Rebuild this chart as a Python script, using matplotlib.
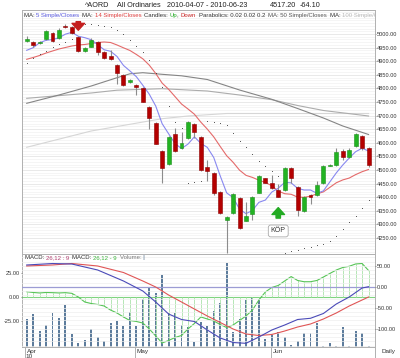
import numpy as np
import pandas as pd
import matplotlib
matplotlib.use("Agg")
import matplotlib.pyplot as plt
from matplotlib.patches import FancyArrowPatch
from matplotlib.transforms import blended_transform_factory

plt.rcParams['font.family'] = ['Liberation Sans', 'DejaVu Sans']

# ---------------- data ----------------
title_parts = ["^AORD", "All Ordinaries", "2010-04-07 - 2010-06-23", "4517.20", "-64.10"]
dates = [d for d in pd.bdate_range("2010-04-07", "2010-06-23")
         if d.strftime("%Y-%m-%d") not in ("2010-04-26", "2010-06-14")]

opens = [4973.2, 4970.6, 4965.8, 4982.7, 5004.8, 4986.4, 5028.3, 5023.9, 4989.0, 4937.5,
         4954.0, 4970.6, 4933.8, 4919.1, 4886.0, 4851.1, 4822.4, 4813.6, 4801.5, 4731.6,
         4673.9, 4571.0, 4522.1, 4631.3, 4579.8, 4616.5, 4669.1, 4622.4, 4512.1, 4489.0,
         4420.2, 4318.0, 4340.8, 4398.2, 4313.6, 4338.2, 4416.5, 4469.5, 4453.3, 4426.5,
         4426.5, 4506.3, 4438.6, 4350.4, 4408.1, 4408.1, 4451.1, 4515.8, 4518.4, 4571.0,
         4546.0, 4588.2, 4625.0, 4579.8]
highs = [4991.5, 4974.3, 4976.1, 5016.5, 5008.5, 5022.1, 5038.6, 5029.4, 4992.6, 4954.0,
         4983.5, 4974.3, 4937.5, 4942.3, 4889.7, 4852.9, 4834.6, 4816.2, 4805.1, 4735.3,
         4676.5, 4573.5, 4623.2, 4654.4, 4639.7, 4680.1, 4672.8, 4625.0, 4536.8, 4492.6,
         4422.8, 4330.9, 4415.4, 4400.7, 4382.4, 4404.4, 4481.6, 4472.4, 4481.6, 4448.5,
         4509.2, 4509.2, 4441.2, 4404.4, 4411.8, 4459.6, 4518.4, 4522.1, 4580.9, 4577.2,
         4580.9, 4636.0, 4628.7, 4584.6]
lows = [4968.8, 4952.2, 4963.2, 4977.9, 4970.6, 4981.6, 5022.1, 5001.8, 4932.0, 4933.8,
        4950.4, 4922.8, 4908.1, 4904.4, 4817.3, 4808.8, 4819.9, 4774.6, 4750.0, 4651.8,
        4593.8, 4452.2, 4518.4, 4568.0, 4577.2, 4614.0, 4617.6, 4496.3, 4460.7, 4409.9,
        4338.2, 4194.9, 4338.2, 4283.1, 4310.7, 4316.2, 4413.6, 4450.4, 4430.1, 4398.9,
        4422.8, 4452.2, 4330.9, 4347.4, 4375.0, 4404.4, 4448.5, 4512.9, 4514.7, 4536.8,
        4544.1, 4584.6, 4573.5, 4511.0]
closes = [4982.7, 4958.5, 4970.6, 5009.9, 4976.1, 5015.8, 5024.6, 5004.8, 4937.5, 4949.6,
          4979.0, 4933.8, 4910.7, 4909.2, 4854.8, 4814.3, 4832.0, 4805.1, 4751.8, 4691.2,
          4596.7, 4506.3, 4620.2, 4571.0, 4600.4, 4677.6, 4640.8, 4500.0, 4497.4, 4413.6,
          4340.8, 4328.3, 4411.8, 4285.7, 4330.9, 4399.6, 4477.9, 4453.3, 4432.7, 4401.8,
          4506.3, 4469.5, 4352.9, 4401.8, 4401.8, 4444.9, 4514.7, 4518.4, 4567.3, 4546.0,
          4573.5, 4631.3, 4581.3, 4517.2]

# moving-average values at the start of the window (need data before 2010-04-07)
ma5_start = [4940.1, 4949.6, 4968.0, 4976.8]
ma14_start = [4907.0, 4913.6, 4921.0, 4930.1, 4937.5, 4944.9, 4950.4, 4955.9, 4959.6,
              4961.4, 4965.1, 4968.8, 4970.6]

ma50_idx = [0, 5, 10, 14, 16, 18, 21, 24, 28, 33, 38, 42, 46, 49, 53]
ma50_val = [4745.2, 4775.7, 4808.8, 4839.3, 4853.7, 4857.7, 4851.8, 4846.3, 4832.7, 4794.1,
            4759.9, 4726.1, 4691.2, 4661.8, 4630.5]
ma100_idx = [0, 10, 14, 21, 25, 28, 33, 38, 42, 46, 53]
ma100_val = [4763.6, 4783.1, 4793.4, 4798.9, 4794.1, 4790.4, 4775.7, 4758.5, 4737.1, 4718.8, 4698.5]
ma200_idx = [0, 10, 21, 25, 31, 42, 53]
ma200_val = [4583.5, 4643.4, 4688.6, 4698.5, 4707.7, 4707.7, 4707.7]

sar = [4895.2, 4911.8, 4925.4, 4939.3, 4952.2, 4963.2, 4972.4, 4979.8, 5040.4, 5038.6,
       5036.8, 5033.1, 5029.4, 5023.9, 5015.8, 4998.9, 4976.8, 4955.9, 4933.8, 4903.3,
       4857.7, 4805.1, 4735.3, 4677.6, 4654.4, 4451.1, 4457.0, 4460.7, 4680.1, 4677.6,
       4673.9, 4665.4, 4634.9, 4607.9, 4585.8, 4558.8, 4534.3, 4514.7, 4496.3, 4478.0,
       4193.8, 4200.4, 4206.3, 4212.1, 4218.0, 4223.5, 4229.4, 4240.8, 4257.4, 4283.1,
       4307.0, 4329.8, 4360.3, 4387.9]

sell_signals = [8]
buy_signals = [39]
buy_label = "KÖP"

volume = [560, 660, 320, 434, 686, 574, 834, 260, 74, 140, 360, 194, 126, 486, 526, 420,
          706, 420, 954, 1206, 1074, 1440, 674, 674, 440, 394, 106, 506, 420, 720, 886, 1686,
          306, 554, 940, 974, 954, 154, 240, 306, 194, 40, 126, 286, 286, 486, 30, 86, 20,
          394, 20, 326, 274, 20]

macd_hist = [5.2, 4.4, 3.9, 4.4, 4.2, 3.9, 4.2, 3.5, -0.3, -5.5, -7.1, -8.1, -9.7, -13.9,
             -17.0, -21.1, -24.8, -25.8, -27.4, -33.6, -40.9, -48.2, -45.6, -42.5, -40.4,
             -33.6, -27.9, -21.1, -23.2, -25.3, -29.0, -32.1, -29.5, -24.8, -20.1, -13.9,
             -3.4, 4.9, 9.6, 11.7, 16.4, 21.0, 16.9, 15.6, 15.6, 16.9, 20.5, 24.2, 27.8, 30.4,
             31.7, 34.1, 34.6, 27.3]
macd_idx = [0, 4, 7, 11, 15, 18, 20, 22, 24, 26, 28, 30, 32, 34, 36, 38, 40, 42, 44, 46, 48, 50, 52, 53]
macd_line = [51.7, 55.2, 54.0, 39.8, 13.6, -10.2, -36.4, -65.0, -78.1, -82.9, -103.1, -122.1,
             -132.9, -134.8, -119.8, -103.1, -91.2, -78.1, -75.2, -63.8, -41.2, -24.5, -3.1, 0.0]
macd_signal = [49.3, 51.7, 55.2, 49.3, 33.8, 13.6, -0.7, -19.8, -36.4, -53.1, -69.8, -85.2,
               -100.7, -112.6, -116.2, -113.8, -105.5, -96.0, -88.8, -76.9, -62.6, -46.0, -31.7, -24.5]

price_ticks = [5000, 4950, 4900, 4850, 4800, 4750, 4700, 4650, 4600, 4550, 4500, 4450,
               4400, 4350, 4300, 4250]
macd_ticks = [50, 0, -50, -100]
hist_ticks = [25, 0, -25]

# ---------------- derived ----------------
o = np.array(opens); h = np.array(highs); l = np.array(lows); c = np.array(closes)
n = len(c)
x = np.arange(n)
ma5 = np.array([ma5_start[i] if i < 4 else c[i-4:i+1].mean() for i in range(n)])
ma14 = np.array([ma14_start[i] if i < 13 else c[i-13:i+1].mean() for i in range(n)])

# ---------------- figure ----------------
W, H = 400, 358
fig = plt.figure(figsize=(W/100, H/100), dpi=100)
fig.patch.set_facecolor("white")

def fx(px): return px / W
def fy(py): return 1 - py / H

L, R = 22, 375
MT, MB, LB = 10, 254, 347
XL = ((L - 26.7) / 6.45, (R - 26.7) / 6.45)
TFS = 4.1

ax = fig.add_axes([fx(L), fy(MB), fx(R) - fx(L), fy(MT) - fy(MB)])
ax.set_xlim(*XL)
ax.set_ylim(5000 - (MB - 34) * 3.6765, 5000 + (34 - MT) * 3.6765)

# grid
for gv in np.arange(4200, 5100, 10):
    ax.axhline(gv, color="#f1f1f1", lw=0.5, zorder=0)
for gv in price_ticks:
    ax.axhline(gv, color="#e4e4e4", lw=0.5, zorder=0)

# moving averages
ax.plot(ma200_idx, ma200_val, color="#d6d6d6", lw=0.8, zorder=1)
ax.plot(ma100_idx, ma100_val, color="#acacac", lw=0.8, zorder=1)
ax.plot(ma50_idx, ma50_val, color="#858585", lw=0.8, zorder=1)
ax.plot(x, ma14, color="#e46a6a", lw=0.8, zorder=2)
ax.plot(x, ma5, color="#8888f0", lw=0.8, zorder=2)

# candles
up = c >= o
ax.vlines(x, l, h, color="#8c8c8c", lw=0.8, zorder=3)
body_lo = np.minimum(o, c)
body_h = np.maximum(np.abs(c - o), 1.5)
ax.bar(x[up], body_h[up], bottom=body_lo[up], width=0.62, color="#22b322",
       edgecolor="#1c8f1c", lw=0.4, zorder=4)
ax.bar(x[~up], body_h[~up], bottom=body_lo[~up], width=0.62, color="#b40000",
       edgecolor="#8c0000", lw=0.4, zorder=4)

# parabolic SAR
ax.plot(x, sar, linestyle="none", marker="o", ms=0.75, mew=0, color="#3a3a3a", zorder=5)

# signals
for i in sell_signals:
    a = FancyArrowPatch((i, h[i] + 63), (i, h[i] + 11),
                        arrowstyle="simple,head_length=0.55,head_width=1.0,tail_width=0.35",
                        mutation_scale=9, color="#c41e1e", zorder=6)
    ax.add_patch(a)
for i in buy_signals:
    a = FancyArrowPatch((i, l[i] - 86), (i, l[i] - 27),
                        arrowstyle="simple,head_length=0.55,head_width=1.0,tail_width=0.35",
                        mutation_scale=9, color="#22aa22", zorder=6)
    ax.add_patch(a)
    ax.text(i, l[i] - 123, buy_label, fontsize=5, ha="center", va="center", color="#333333",
            zorder=7, bbox=dict(boxstyle="round,pad=0.35", fc="white", ec="#aaaaaa", lw=0.6))

ax.set_xticks([])
ax.yaxis.tick_right()
ax.set_yticks(price_ticks)
ax.set_yticklabels([f"{v:.2f}" for v in price_ticks], fontsize=TFS, color="#333333")
ax.tick_params(axis="y", length=1.0, width=0.5, pad=0.6, colors="#666666", labelcolor="#333333")
for s in ax.spines.values():
    s.set_color("#b0b0b0"); s.set_linewidth(0.7)

# ---------------- lower panel ----------------
rect = [fx(L), fy(LB), fx(R) - fx(L), fy(MB) - fy(LB)]
axv = fig.add_axes(rect)
axh = fig.add_axes(rect, facecolor="none")
axm = fig.add_axes(rect, facecolor="none")
for a_ in (axv, axh, axm):
    a_.set_xlim(*XL)
axv.set_ylim(0, (LB - MB) * 20)
axh.set_ylim(-(LB - 296.7) * 25 / 24, (296.7 - MB) * 25 / 24)
axm.set_ylim(-(LB - 286.7) * 50 / 21, (286.7 - MB) * 50 / 21)

for gv in np.arange(-140, 80, 10):
    axm.axhline(gv, color="#efefef", lw=0.5, zorder=0)

axv.bar(x, volume, width=0.3, color="#5d7c9c", zorder=2)

axh.axhline(0, color="#7fd37f", lw=0.8, zorder=1)
axh.vlines(x, 0, macd_hist, color="#a9e2a9", lw=0.6, zorder=1)
axh.plot(x, macd_hist, color="#57c457", lw=0.8, zorder=2)

axm.axhline(0, color="#9c9cd4", lw=0.9, zorder=1)
axm.plot(macd_idx, macd_signal, color="#e05555", lw=0.8, zorder=3)
axm.plot(macd_idx, macd_line, color="#4a4ab8", lw=0.8, zorder=3)

axv.set_xticks([]); axv.set_yticks([])
axh.set_xticks([]); axm.set_xticks([])
axh.yaxis.tick_left()
axh.set_yticks(hist_ticks)
axh.set_yticklabels([f"{v:.2f}" for v in hist_ticks], fontsize=TFS)
axh.tick_params(axis="y", length=1.0, width=0.5, pad=0.8, colors="#666666", labelcolor="#333333")
axm.yaxis.tick_right()
axm.set_yticks(macd_ticks)
axm.set_yticklabels([f"{v:.2f}" for v in macd_ticks], fontsize=TFS)
axm.tick_params(axis="y", length=1.0, width=0.5, pad=0.6, colors="#666666", labelcolor="#333333")
for a_ in (axh, axm):
    for s in a_.spines.values():
        s.set_visible(False)
for s in axv.spines.values():
    s.set_color("#b0b0b0"); s.set_linewidth(0.7)

# month labels
bt = blended_transform_factory(axv.transData, fig.transFigure)
months = pd.Series([d.month for d in dates])
starts = [0] + [i for i in range(1, n) if months[i] != months[i-1]]
for k, i in enumerate(starts):
    xt = max(i - 0.2, XL[0] + 0.02)
    axv.plot([xt, xt], [fy(LB), fy(H)], transform=bt, color="#b0b0b0", lw=0.7, clip_on=False)
    axv.text(xt + 0.3, fy(351.5), dates[i].strftime("%b"), transform=bt, fontsize=4.6,
             ha="left", va="center", color="#333333")
axv.text(XL[0] + 0.5, fy(354.5), dates[0].strftime("%y"), transform=bt, fontsize=4.6,
         ha="left", va="top", color="#333333")
fig.add_artist(plt.Line2D([fx(R), fx(R)], [fy(LB), 0], color="#b0b0b0", lw=0.7))
fig.text(fx(389), fy(352), "Daily", fontsize=4.6, ha="center", va="center", color="#333333")

# ---------------- texts ----------------
renderer = fig.canvas.get_renderer()

def pieces(axes, x0, y0, parts, size, gap=3.0):
    xp = x0
    for s, col in parts:
        if s == "":
            xp += gap
            continue
        t = axes.text(fx(xp), fy(y0), s, transform=fig.transFigure, fontsize=size,
                      color=col, ha="left", va="center", clip_on=True, zorder=10)
        xp += t.get_window_extent(renderer=renderer).width

dk = "#333333"
pieces(ax, 24, 15.5, [("MA: ", dk), ("5 Simple/Closes", "#5a5ae0"), ("", None),
                      ("MA: ", dk), ("14 Simple/Closes", "#e04040"), ("", None),
                      ("Candles: ", dk), ("Up", "#22aa22"), (", ", dk), ("Down", "#c82020"), ("", None),
                      ("Parabolics: 0.02 0.02 0.2", dk), ("", None),
                      ("MA: 50 Simple/Closes", "#555555"), ("", None),
                      ("MA: ", dk), ("100 Simple/Closes", "#b8b8b8")], 4.3)
pieces(axm, 25, 257.5, [("MACD: ", dk), ("26,12 : 9", "#b04070"), ("", None),
                        ("MACD: ", dk), ("26,12 - 9", "#3cb43c"), ("", None),
                        ("Volume: ", "#777777"), ("||", "#9aaabb")], 4.3)

# title
tx = [85, 117, 167, 270, 300]
for px_, s in zip(tx, title_parts):
    fig.text(fx(px_), fy(5.2), s, fontsize=5.2, ha="left", va="center", color="#222222")
fig.add_artist(plt.Line2D([fx(L), fx(R)], [fy(MT), fy(MT)], color="#b0b0b0", lw=0.7))

fig.savefig("out.png", dpi=100, facecolor="white")
